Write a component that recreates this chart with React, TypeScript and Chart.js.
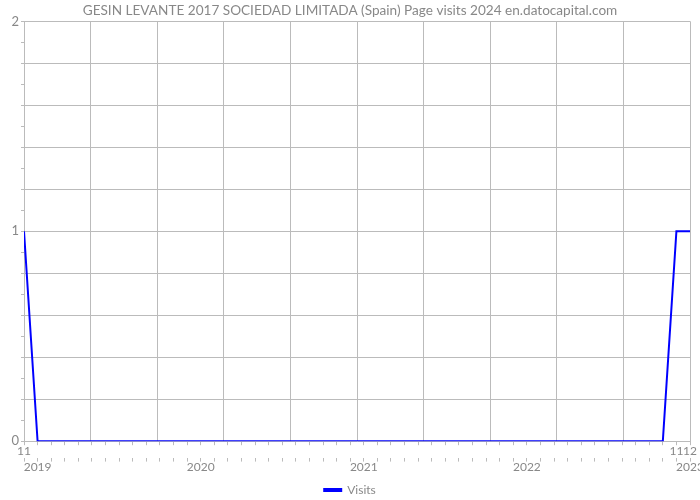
import React, { useEffect, useRef } from 'react';
import { Chart, registerables } from 'chart.js';
Chart.register(...registerables);

const TITLE = 'GESIN LEVANTE 2017 SOCIEDAD LIMITADA (Spain) Page visits 2024 en.datocapital.com';
const SERIES_NAME = 'Visits';

const MONTHS = [
  '2018-11', '2018-12',
  '2019-01', '2019-02', '2019-03', '2019-04', '2019-05', '2019-06', '2019-07', '2019-08', '2019-09', '2019-10', '2019-11', '2019-12',
  '2020-01', '2020-02', '2020-03', '2020-04', '2020-05', '2020-06', '2020-07', '2020-08', '2020-09', '2020-10', '2020-11', '2020-12',
  '2021-01', '2021-02', '2021-03', '2021-04', '2021-05', '2021-06', '2021-07', '2021-08', '2021-09', '2021-10', '2021-11', '2021-12',
  '2022-01', '2022-02', '2022-03', '2022-04', '2022-05', '2022-06', '2022-07', '2022-08', '2022-09', '2022-10', '2022-11', '2022-12',
];

const VISITS = [
  1, 0,
  0, 0, 0, 0, 0, 0, 0, 0, 0, 0, 0, 0,
  0, 0, 0, 0, 0, 0, 0, 0, 0, 0, 0, 0,
  0, 0, 0, 0, 0, 0, 0, 0, 0, 0, 0, 0,
  0, 0, 0, 0, 0, 0, 0, 0, 0, 0, 1, 1,
];

// month-number labels shown on the first row
const MONTH_LABEL_AT = ['2018-11', '2022-11', '2022-12'];
const MONTH_LABEL_TEXT = ['11', '11', '12'];
// year labels shown on the second row
const YEAR_LABEL_AT = ['2018-12', '2019-12', '2020-12', '2021-12', '2022-12'];
const YEAR_LABEL_TEXT = ['2019', '2020', '2021', '2022', '2023'];

const Y_TICK_LABELS = ['0', '1', '2'];

const FONT = 'Lato';
const TEXT = '#888888';
const GRID = '#bbbbbb';

export default function App() {
  const ref = useRef<HTMLCanvasElement>(null);
  useEffect(() => {
    if (!ref.current) return;
    const last = MONTHS.length - 1;
    const yearPlugin = {
      id: 'yearLabels',
      afterDraw(chart: any) {
        const s = chart.scales.xy;
        const ctx = chart.ctx;
        ctx.save();
        ctx.fillStyle = TEXT;
        ctx.font = `12px "${FONT}"`;
        ctx.textAlign = 'center';
        ctx.textBaseline = 'middle';
        YEAR_LABEL_AT.forEach((m, i) => {
          const x = s.getPixelForValue(MONTHS.indexOf(m));
          ctx.fillText(YEAR_LABEL_TEXT[i], x, s.top + 10);
        });
        ctx.restore();
      },
    };
    const chart = new Chart(ref.current, {
      type: 'line',
      data: {
        datasets: [
          {
            label: SERIES_NAME,
            data: VISITS.map((v, i) => ({ x: i, y: v })),
            borderColor: '#0000ff',
            backgroundColor: '#0000ff',
            borderWidth: 2,
            pointRadius: 0,
            tension: 0,
            xAxisID: 'x',
            yAxisID: 'y',
          },
        ],
      },
      options: {
        animation: false,
        responsive: false,
        layout: { padding: { top: 0, left: 0, right: 0, bottom: -6 } },
        plugins: {
          title: {
            display: true,
            text: TITLE,
            color: TEXT,
            font: { family: FONT, size: 13.6, weight: 'normal' },
            padding: { top: 2, bottom: 3 },
          },
          legend: {
            position: 'bottom',
            labels: {
              color: TEXT,
              font: { family: FONT, size: 12 },
              boxWidth: 17,
              boxHeight: 2,
              padding: 2,
            },
          },
          tooltip: { enabled: false },
        },
        scales: {
          x: {
            type: 'linear',
            min: 0,
            max: last,
            weight: 0,
            afterBuildTicks: (s: any) => {
              const t = [];
              for (let i = 0; i <= 10; i++) t.push({ value: (last * i) / 10 });
              s.ticks = t;
            },
            ticks: { display: false },
            grid: { color: GRID, drawTicks: false },
            border: { display: false },
          },
          xm: {
            type: 'linear',
            position: 'bottom',
            min: 0,
            max: last,
            weight: 1,
            afterBuildTicks: (s: any) => {
              s.ticks = MONTHS.map((_, i) => ({ value: i }));
            },
            ticks: {
              autoSkip: false,
              maxRotation: 0,
              color: TEXT,
              padding: -1,
              font: { family: FONT, size: 12 },
              callback: (v: any) => {
                const k = MONTH_LABEL_AT.indexOf(MONTHS[v as number]);
                return k >= 0 ? MONTH_LABEL_TEXT[k] : '';
              },
            },
            grid: { drawOnChartArea: false, tickLength: 4, color: GRID },
            border: { display: false },
          },
          xy: {
            type: 'linear',
            position: 'bottom',
            min: 0,
            max: last,
            weight: 2,
            afterBuildTicks: (s: any) => {
              s.ticks = MONTHS.map((_, i) => ({ value: i }));
            },
            ticks: {
              autoSkip: false,
              maxRotation: 0,
              color: TEXT,
              padding: 3,
              font: { family: FONT, size: 12 },
              callback: () => '',
            },
            grid: { drawOnChartArea: false, tickLength: 4, color: GRID },
            border: { display: false },
          },
          y: {
            position: 'left',
            min: 0,
            max: 2,
            afterBuildTicks: (s: any) => {
              const t = [];
              for (let i = 0; i <= 20; i++) t.push({ value: i / 10 });
              s.ticks = t;
            },
            afterFit: (s: any) => {
              s.width = 24;
            },
            ticks: {
              autoSkip: false,
              color: TEXT,
              padding: 2,
              font: { family: FONT, size: 13 },
              callback: (v: any) => {
                const r = Math.round(v * 10);
                return r % 10 === 0 ? Y_TICK_LABELS[r / 10] : '';
              },
            },
            grid: {
              tickLength: 3,
              tickColor: GRID,
              color: (c: any) => {
                const r = Math.round((c.tick ? c.tick.value : 0) * 10);
                return r % 2 === 0 ? GRID : 'rgba(0,0,0,0)';
              },
            },
            border: { display: true, color: GRID },
          },
          yr: {
            position: 'right',
            min: 0,
            max: 2,
            afterFit: (s: any) => {
              s.width = 10;
            },
            ticks: { display: false },
            grid: { display: false },
            border: { display: false },
          },
        },
      } as any,
      plugins: [yearPlugin],
    });
    return () => chart.destroy();
  }, []);
  return (
    <div style={{ position: 'fixed', left: 0, top: 0, width: 700, height: 500, background: '#fff' }}>
      <canvas ref={ref} width={700} height={500} style={{ width: 700, height: 500 }} />
    </div>
  );
}
